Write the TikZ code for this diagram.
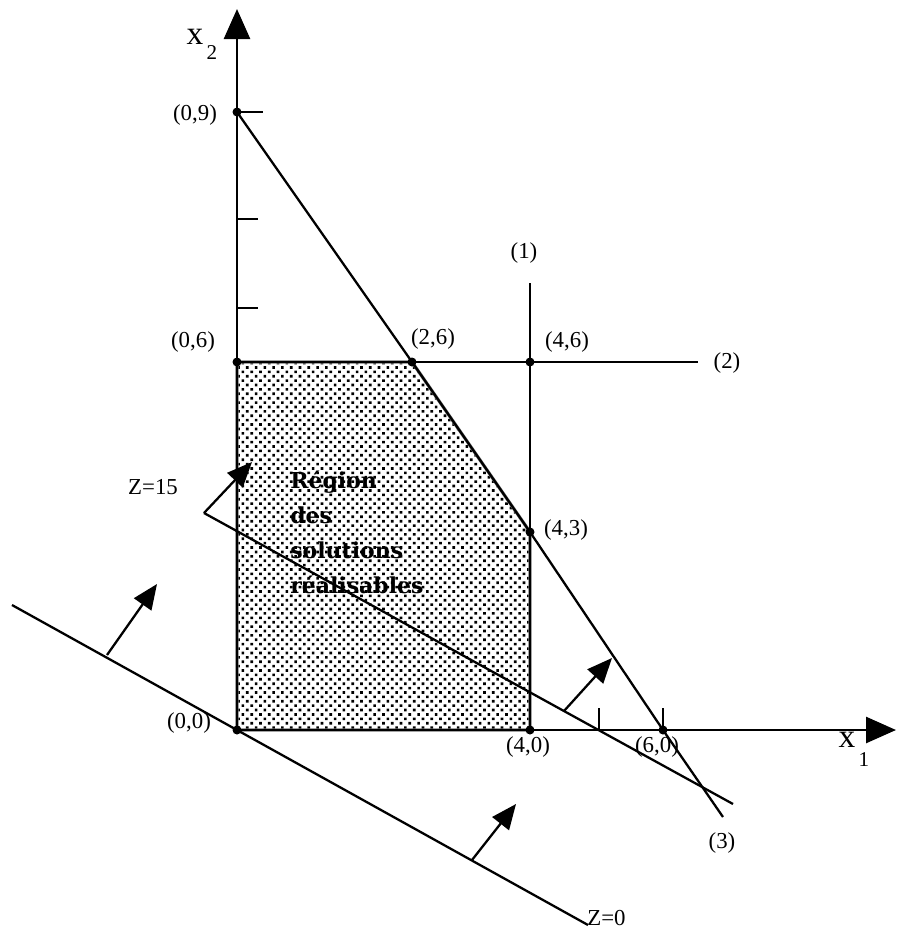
\documentclass[tikz,border=0pt]{standalone}
\usepackage{fontspec}
\setmainfont{Liberation Serif}
\newfontfamily\regionfont{DejaVu Serif}
\usepackage{tikz}
\usetikzlibrary{arrows.meta,positioning,patterns}
\pgfdeclarepatternformonly{regiondots}{\pgfqpoint{-1pt}{-1pt}}{\pgfqpoint{6pt}{6pt}}{\pgfqpoint{5pt}{5pt}}{%
  \pgfpathrectangle{\pgfqpoint{0pt}{0pt}}{\pgfqpoint{1.5pt}{1.5pt}}%
  \pgfpathrectangle{\pgfqpoint{2.5pt}{2.5pt}}{\pgfqpoint{1.5pt}{1.5pt}}%
  \pgfusepath{fill}}

\begin{document}
\begin{tikzpicture}[
    x=0.02cm, y=-0.02cm,
    axis/.style={line width=1.5pt, -{Triangle[length=0.6cm,width=0.52cm]}},
    cline/.style={line width=1.3pt},
    grad/.style={line width=1.3pt, -{Triangle[length=0.5cm,width=0.42cm]}},
    vertex/.style={circle, fill=black, inner sep=0pt, minimum size=0.18cm},
    lbl/.style={font=\fontsize{13}{13}\selectfont, inner sep=0pt},
    big/.style={font=\fontsize{19}{19}\selectfont, inner sep=0pt},
    sub/.style={font=\fontsize{12}{12}\selectfont, inner sep=0pt}
  ]
  \useasboundingbox (0,0) rectangle (897,931);

  % corner points of the constraints
  \coordinate (O) at (237,730);
  \coordinate (P09) at (237,112);
  \coordinate (P06) at (237,362);
  \coordinate (P26) at (412,362);
  \coordinate (P46) at (530,362);
  \coordinate (P43) at (530,532);
  \coordinate (P40) at (530,730);
  \coordinate (P60) at (663,730);
  \coordinate (ytip) at (237,9);
  \coordinate (xtip) at (896,730);

  % feasible region
  \fill[pattern=regiondots] (P06) -- (P26) -- (P43) -- (P40) -- (O) -- cycle;
  \draw[black!55, line width=1.8pt] (P06) -- (P26) -- (P43) -- (P40) -- (O) -- cycle;
  \node[anchor=north west, inner sep=0pt, align=left,
        font=\regionfont\fontsize{12.5}{19.8}\selectfont\bfseries] (region) at (290,471)
        {Région\\des\\solutions\\réalisables};

  % axes
  \draw[axis] (O) -- (ytip);
  \draw[axis] (O) -- (xtip);
  \draw[cline] (P09) -- ++(26,0);
  \draw[cline] (237,219) -- ++(21,0);
  \draw[cline] (237,308) -- ++(21,0);
  \draw[cline] (599,730) -- ++(0,-22);
  \draw[cline] (P60) -- ++(0,-22);
  \node[big] (x2) at (195,37) {x};
  \node[sub] (x2i) at (212,53) {2};
  \node[big] (x1) at (847,740) {x};
  \node[sub] (x1i) at (864,760) {1};

  % constraints (1) (2) (3)
  \coordinate (c1top) at (530,283);
  \coordinate (c2end) at (698,362);
  \coordinate (c3end) at (723,817);
  \draw[cline] (c1top) -- (P40);
  \draw[cline] (P06) -- (c2end);
  \draw[cline] (P09) -- (P26) -- (P43) -- (P60) -- (c3end);
  \node[lbl] (n1) at (524,253) {(1)};
  \node[lbl] (n2) at (727,363) {(2)};
  \node[lbl] (n3) at (722,843) {(3)};

  % iso-profit lines
  \coordinate (z15a) at (204,513);
  \coordinate (z15b) at (733,804);
  \coordinate (z0a) at (12,605);
  \coordinate (z0b) at (588,925);
  \draw[cline] (z15a) -- (z15b);
  \draw[cline] (z0a) -- (z0b);
  \draw[grad] (z15a) -- (252,462);
  \draw[grad] (564,711) -- (612,658);
  \draw[grad] (107,655) -- (157,584);
  \draw[grad] (472,860) -- (516,804);
  \node[lbl] (z15) at (153,487) {Z=15};
  \node[lbl, anchor=west] (z0) at (587,918) {Z=0};

  % vertices
  \foreach \p in {O,P09,P06,P26,P46,P43,P40,P60}
    \node[vertex] (v\p) at (\p) {};
  \node[lbl] (l09) at (195,115) {(0,9)};
  \node[lbl] (l06) at (193,342) {(0,6)};
  \node[lbl] (l26) at (433,339) {(2,6)};
  \node[lbl] (l46) at (567,342) {(4,6)};
  \node[lbl] (l43) at (566,530) {(4,3)};
  \node[lbl] (l00) at (189,723) {(0,0)};
  \node[lbl] (l40) at (528,747) {(4,0)};
  \node[lbl] (l60) at (657,747) {(6,0)};
\end{tikzpicture}
\end{document}
